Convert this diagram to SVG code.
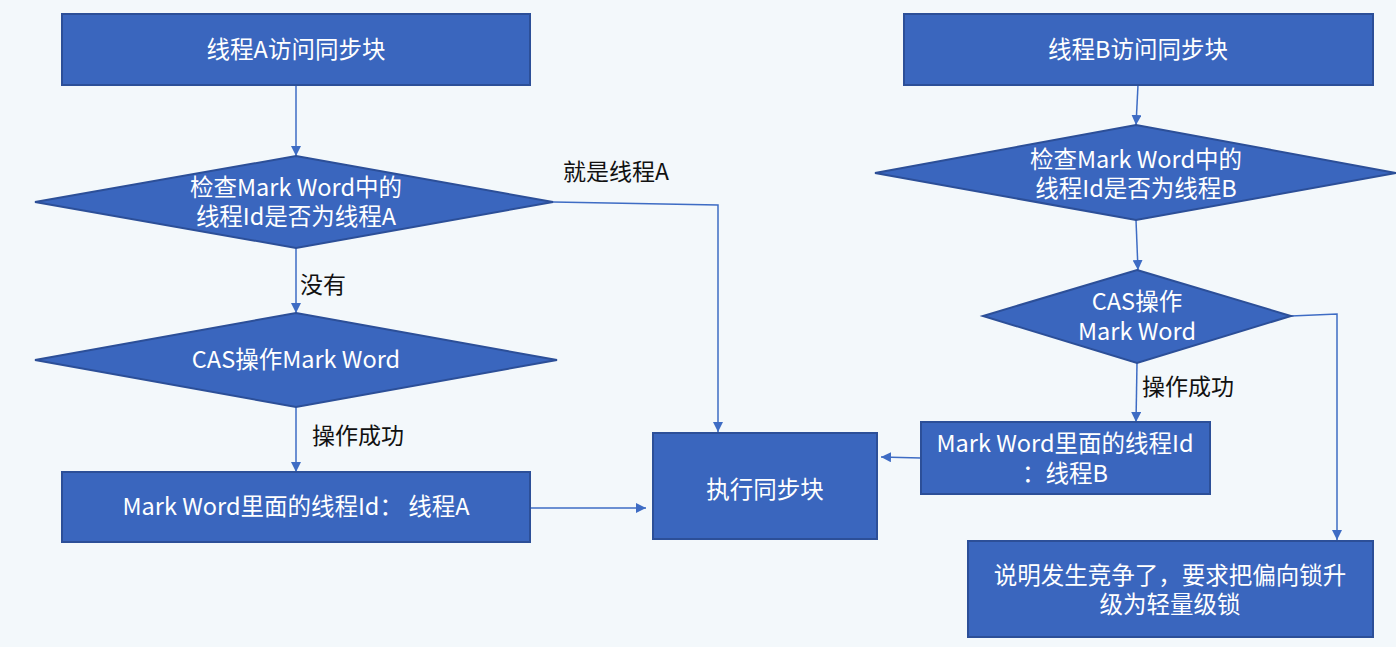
<svg xmlns="http://www.w3.org/2000/svg" width="1396" height="647" viewBox="0 0 1396 647">
<defs>
<marker id="ah" viewBox="0 0 10 10" refX="10" refY="5" markerWidth="10" markerHeight="10" markerUnits="userSpaceOnUse" orient="auto">
<path d="M0,0 L10,5 L0,10 Z" fill="#3E6CC4"/>
</marker>
<style>
.n{fill:#3A66BE;stroke:#2C4F98;stroke-width:2}
.t{font-family:"Noto Sans CJK SC","Noto Sans",sans-serif;font-size:23.5px;fill:#FFFFFF;text-anchor:middle}
.l{font-family:"Noto Sans CJK SC","Noto Sans",sans-serif;font-size:23px;fill:#111111}
.c{fill:none;stroke:#3E6CC4;stroke-width:1.5;marker-end:url(#ah)}
</style>
</defs>
<rect width="1396" height="647" fill="#F3F8FB"/>
<g id="connectors">
<path class="c" d="M296,85 L296,156"/>
<path class="c" d="M296,248 L296,313"/>
<path class="c" d="M296,407 L296,472"/>
<path class="c" d="M530,508 L646,508"/>
<path class="c" d="M553,202 L718,205 L718,432"/>
<path class="c" d="M1138,85 L1136,125"/>
<path class="c" d="M1136,220 L1138,270"/>
<path class="c" d="M1137,363 L1136,422"/>
<path class="c" d="M921,458 L881,457"/>
<path class="c" d="M1291,316 L1337,314 L1337,540"/>
</g>
<g id="lbl-yes-a"><text class="l" x="563" y="180">就是线程A</text></g>
<g id="lbl-no"><text class="l" x="300" y="293">没有</text></g>
<g id="lbl-ok-a"><text class="l" x="312" y="444">操作成功</text></g>
<g id="lbl-ok-b"><text class="l" x="1142" y="395">操作成功</text></g>
<g id="a1"><rect class="n" x="62" y="14" width="468" height="71"/><text class="t" x="296" y="58">线程A访问同步块</text></g>
<g id="d1"><polygon class="n" points="296,156 553,202 296,248 35,202"/><text class="t"><tspan x="296" y="196">检查Mark Word中的</tspan><tspan x="296" y="225">线程Id是否为线程A</tspan></text></g>
<g id="d2"><polygon class="n" points="296,313 557,360 296,407 35,360"/><text class="t" x="296" y="368">CAS操作Mark Word</text></g>
<g id="a2"><rect class="n" x="62" y="472" width="468" height="70"/><text class="t" x="296" y="515">Mark Word里面的线程Id：  线程A</text></g>
<g id="exec"><rect class="n" x="653" y="433" width="224" height="106"/><text class="t" x="765" y="498">执行同步块</text></g>
<g id="b1"><rect class="n" x="904" y="14" width="469" height="71"/><text class="t" x="1138" y="58">线程B访问同步块</text></g>
<g id="d3"><polygon class="n" points="1136,125 1396,173 1136,220 875,173"/><text class="t"><tspan x="1136" y="168">检查Mark Word中的</tspan><tspan x="1136" y="197">线程Id是否为线程B</tspan></text></g>
<g id="d4"><polygon class="n" points="1137,270 1291,316 1137,363 983,316"/><text class="t"><tspan x="1137" y="310">CAS操作</tspan><tspan x="1137" y="340">Mark Word</tspan></text></g>
<g id="b2"><rect class="n" x="921" y="422" width="289" height="72"/><text class="t"><tspan x="1065" y="452">Mark Word里面的线程Id</tspan><tspan x="1065" y="482">：线程B</tspan></text></g>
<g id="b3"><rect class="n" x="968" y="541" width="405" height="96"/><text class="t"><tspan x="1170" y="584">说明发生竞争了，要求把偏向锁升</tspan><tspan x="1170" y="613">级为轻量级锁</tspan></text></g>
</svg>
